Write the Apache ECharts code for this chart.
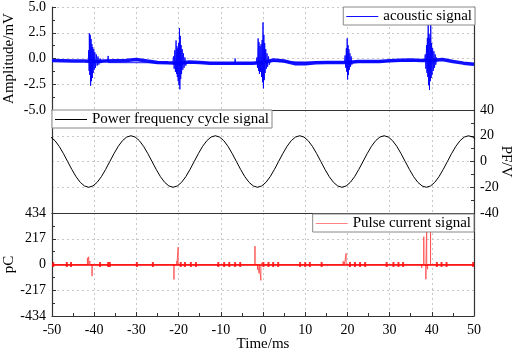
<!DOCTYPE html>
<html>
<head>
<meta charset="utf-8">
<script src="https://cdn.jsdelivr.net/npm/echarts@6/dist/echarts.min.js"></script>
<style>
    html, body { margin: 0; padding: 0; background: #fff; }
    #chart { width: 512px; height: 351px; }
</style>
</head>
<body>
<div id="chart"></div>
<script>
// time axis (ms)
var timeMin = -50, timeMax = 50, timeStep = 10;

// acoustic signal: slow baseline (mV)
var acBaseT = [-50, -47.5, -45, -42.5, -40, -37.5, -35, -32.5, -30, -27.5, -25, -22.5, -20, -17.5, -15, -12.5, -10, -7.5, -5, -2.5,
    0, 2.5, 5, 7.5, 10, 12.5, 15, 17.5, 20, 22.5, 25, 27.5, 30, 32.5, 35, 37.5, 40, 42.5, 45, 47.5, 50];
var acBaseV = [-0.20, -0.22, -0.24, -0.25, -0.28, -0.25, -0.22, -0.20, -0.10, -0.25, -0.38, -0.42, -0.45, -0.35, -0.38, -0.45, -0.45, -0.47, -0.45, -0.45,
    -0.40, -0.15, -0.25, -0.50, -0.50, -0.42, -0.38, -0.40, -0.38, -0.30, -0.30, -0.28, -0.22, -0.18, -0.15, -0.20, -0.20, -0.10, -0.30, -0.45, -0.55];

// acoustic signal: discharge bursts (mV)
var acBurstT = [
    -41.4, -41.3, -41.2, -41.15, -41.05, -40.95, -40.85, -40.75, -40.65, -40.55, -40.45, -40.35, -40.25, -40.1, -40.0, -39.85, -39.7, -39.5, -39.3, -39.1, -38.9, -38.6, -38.4, -38.2,
    -36.8, -36.7, -36.6, -36.5,
    -21.4, -21.2, -21.05, -20.9, -20.75, -20.6, -20.5, -20.4, -20.3, -20.2, -20.1, -20.0, -19.9, -19.8, -19.7, -19.6, -19.5, -19.4, -19.3, -19.15, -19.0, -18.85, -18.7, -18.5, -18.3, -18.1,
    -6.7, -6.6, -6.5,
    -1.6, -1.45, -1.3, -1.15, -1.05, -0.95, -0.85, -0.7, -0.6, -0.45, -0.35, -0.2, -0.1, 0.0, 0.1, 0.2, 0.3, 0.4, 0.5, 0.65, 0.8, 0.95, 1.1, 1.3, 1.5, 1.7,
    19.3, 19.45, 19.6, 19.75, 19.85, 19.95, 20.05, 20.15, 20.25, 20.35, 20.45, 20.6, 20.75, 20.9, 21.05, 21.2,
    38.3, 38.45, 38.6, 38.75, 38.85, 38.95, 39.05, 39.15, 39.25, 39.35, 39.45, 39.55, 39.65, 39.75, 39.85, 39.95, 40.05, 40.2, 40.35, 40.5, 40.65, 40.8, 40.95, 41.1, 41.3
];
var acBurstV = [
    -0.25, 0.8, -1.2, 2.45, -1.6, 2.3, -2.65, 1.9, -2.2, 1.4, -1.9, 1.1, -1.4, 0.9, -1.1, 0.6, -0.9, 0.4, -0.7, 0.2, -0.6, 0.0, -0.45, -0.25,
    -0.25, 0.25, -0.4, -0.22,
    -0.42, 0.2, -1.0, 0.8, -1.3, 1.75, -1.5, 1.2, -1.8, 1.0, -2.2, 1.5, -2.6, 2.95, -3.0, 2.2, -2.0, 1.3, -1.5, 0.9, -1.1, 0.5, -0.9, 0.1, -0.7, -0.38,
    -0.47, 0.0, -0.47,
    -0.42, 0.1, -0.9, 1.95, -1.2, 1.6, -1.5, 1.2, -1.3, 1.4, -1.8, 1.8, -2.3, 3.5, -2.9, 2.3, -2.1, 1.5, -1.4, 0.9, -1.0, 0.5, -0.8, 0.2, -0.6, -0.3,
    -0.38, 0.3, -0.9, 1.0, -1.3, 1.95, -2.05, 1.3, -1.6, 0.9, -1.1, 0.5, -0.8, 0.2, -0.6, -0.35,
    -0.2, 0.4, -1.0, 1.3, -1.4, 2.0, -1.8, 4.2, -2.6, 2.4, -3.05, 2.0, -2.2, 4.0, -1.9, 1.5, -1.6, 1.0, -1.2, 0.7, -0.9, 0.4, -0.6, 0.1, -0.25
];

// power frequency cycle (V), sampled every 1 ms from -50.3 ms
var pfStart = -50.3, pfStep = 1;
var pfV = [
    19.0, 16.2, 11.8, 6.2, 0, -6.2, -11.8, -16.2, -19.0,
    -20.0, -19.0, -16.2, -11.8, -6.2, 0, 6.2, 11.8, 16.2, 19.0, 20.0, 19.0, 16.2, 11.8, 6.2, 0, -6.2, -11.8, -16.2, -19.0,
    -20.0, -19.0, -16.2, -11.8, -6.2, 0, 6.2, 11.8, 16.2, 19.0, 20.0, 19.0, 16.2, 11.8, 6.2, 0, -6.2, -11.8, -16.2, -19.0,
    -20.0, -19.0, -16.2, -11.8, -6.2, 0, 6.2, 11.8, 16.2, 19.0, 20.0, 19.0, 16.2, 11.8, 6.2, 0, -6.2, -11.8, -16.2, -19.0,
    -20.0, -19.0, -16.2, -11.8, -6.2, 0, 6.2, 11.8, 16.2, 19.0, 20.0, 19.0, 16.2, 11.8, 6.2, 0, -6.2, -11.8, -16.2, -19.0,
    -20.0, -19.0, -16.2, -11.8, -6.2, 0, 6.2, 11.8, 16.2, 19.0, 20.0, 19.0, 16.2, 11.8, 6.2
];

// pulse current (pC)
var pcSpikeT = [-41.6, -41.3, -41.0, -40.5, -21.1, -20.4, -20.1, -1.9, -1.3, -0.9, -0.5, -0.1, 19.0, 19.3, 19.7, 20.0, 37.6, 38.1, 38.6, 38.8, 39.0, 39.7];
var pcSpikeV = [56, 65, 30, -98, -126, 30, 146, 155, -42, -74, -134, 20, 28, 20, 94, -15, -28, 234, -124, 340, -40, 330];
var pcDotT = [-49.7, -46.5, -45.5, -38.6, -36.7, -36.3, -29.9, -26.1, -19.5, -18.5, -17.1, -15.9, -10.6, -9.2, -8.0, -6.6, -5.4,
    0.1, 1.3, 2.4, 3.6, 8.8, 10.0, 11.1, 13.9, 20.6, 21.8, 23.0, 24.2, 29.3, 30.9, 32.1, 33.2, 41.2, 42.3, 43.5, 49.8];

var font = 'Liberation Serif';
var chart = echarts.init(document.getElementById('chart'));

var pair = function (ts, vs) {
    return ts.map(function (t, i) { return [t, vs[i]]; });
};

var pfData = pfV.map(function (v, i) { return [pfStart + i * pfStep, v]; });

var pcData = [[timeMin, 0]];
pcSpikeT.forEach(function (t, i) {
    pcData.push([t, 0], [t, pcSpikeV[i]], [t, 0]);
});
pcData.push([timeMax, 0]);

var gridLine = { show: true, lineStyle: { color: '#c8c8c8', type: [2, 3], width: 1 } };
var frameLine = { show: true, onZero: false, lineStyle: { color: '#333', width: 1.2 } };

var xAxisOf = function (gridIndex, bottom) {
    return {
        type: 'value', gridIndex: gridIndex,
        min: timeMin, max: timeMax, interval: timeStep,
        axisLine: frameLine,
        axisTick: { show: bottom, inside: true, length: 4, lineStyle: { color: '#333' } },
        minorTick: { show: bottom, splitNumber: 2, length: 3, lineStyle: { color: '#333' } },
        axisLabel: { show: bottom, margin: 7, fontSize: 14, fontFamily: font, color: '#000' },
        splitLine: gridLine,
        name: bottom ? 'Time/ms' : '',
        nameLocation: 'middle', nameGap: 21, nameMoveOverlap: false,
        nameTextStyle: { fontSize: 15, fontFamily: font, color: '#000' }
    };
};

var yAxisOf = function (gridIndex, pos, min, max, interval, name, labelFmt, nameRotate, nameGap) {
    var shown = !!name;
    return {
        type: 'value', gridIndex: gridIndex, position: pos,
        min: min, max: max, interval: interval,
        axisLine: frameLine,
        axisTick: { show: shown, inside: true, length: 4, lineStyle: { color: '#333' } },
        minorTick: { show: shown, splitNumber: 2, length: 3, lineStyle: { color: '#333' } },
        axisLabel: { show: shown, margin: 6, fontSize: 14, fontFamily: font, color: '#000', formatter: labelFmt },
        splitLine: shown ? gridLine : { show: false },
        name: name || '',
        nameLocation: 'middle', nameRotate: nameRotate, nameGap: nameGap, nameMoveOverlap: false,
        nameTextStyle: { fontSize: 15, fontFamily: font, color: '#000' }
    };
};

var legendOf = function (name, pos, top) {
    var l = {
        data: [name], top: top, orient: 'horizontal',
        backgroundColor: '#fff', borderColor: '#888', borderWidth: 1, borderRadius: 0,
        padding: [2, 3, 1, 3], itemWidth: 32, itemHeight: 1, icon: 'rect',
        textStyle: { fontSize: 15, fontFamily: font, color: '#000' },
        selectedMode: false
    };
    for (var k in pos) { l[k] = pos[k]; }
    return l;
};

var option = {
    animation: false,
    backgroundColor: '#fff',
    grid: [
        { left: 52, right: 38, top: 7, height: 103, outerBoundsMode: 'none' },
        { left: 52, right: 38, top: 110, height: 103, outerBoundsMode: 'none' },
        { left: 52, right: 38, top: 213, height: 103, outerBoundsMode: 'none' }
    ],
    legend: [
        legendOf('acoustic signal', { right: 37 }, 7),
        legendOf('Power frequency cycle signal', { left: 52 }, 110),
        legendOf('Pulse current signal', { right: 38 }, 214)
    ],
    xAxis: [xAxisOf(0, false), xAxisOf(1, false), xAxisOf(2, true)],
    yAxis: [
        yAxisOf(0, 'left', -5, 5, 2.5, 'Amplitude/mV', function (v) { return v.toFixed(1); }, 90, 35),
        yAxisOf(0, 'right', -5, 5, 2.5),
        yAxisOf(1, 'left', -40, 40, 20),
        yAxisOf(1, 'right', -40, 40, 20, 'PF/V', null, -90, 24),
        yAxisOf(2, 'left', -434, 434, 217, 'pC', null, 90, 35),
        yAxisOf(2, 'right', -434, 434, 217)
    ],
    series: [
        {
            name: 'acoustic signal', type: 'line', xAxisIndex: 0, yAxisIndex: 0,
            data: pair(acBaseT, acBaseV), symbol: 'none',
            lineStyle: { color: '#1010ff', width: 3.5 }, itemStyle: { color: '#1010ff' }
        },
        {
            name: 'acoustic burst', type: 'line', xAxisIndex: 0, yAxisIndex: 0,
            data: pair(acBurstT, acBurstV), symbol: 'none',
            lineStyle: { color: '#0000ff', width: 0.9 }
        },
        {
            name: 'Power frequency cycle signal', type: 'line', xAxisIndex: 1, yAxisIndex: 3,
            data: pfData, symbol: 'none',
            lineStyle: { color: '#000', width: 1 }, itemStyle: { color: '#000' }
        },
        {
            name: 'Pulse current signal', type: 'line', xAxisIndex: 2, yAxisIndex: 4,
            data: pcData, symbol: 'none',
            lineStyle: { color: '#ff5050', width: 0.9 }, itemStyle: { color: '#ff8080' },
            markLine: {
                silent: true, symbol: 'none', label: { show: false },
                lineStyle: { color: '#ff0000', width: 1.5, type: 'solid' },
                data: [{ yAxis: 0 }]
            }
        },
        {
            name: 'pulse dots', type: 'scatter', xAxisIndex: 2, yAxisIndex: 4,
            data: pcDotT.map(function (t) { return [t, 0]; }),
            symbol: 'rect', symbolSize: [2, 5], itemStyle: { color: '#ff0000' }
        }
    ]
};

chart.setOption(option);
</script>
</body>
</html>
